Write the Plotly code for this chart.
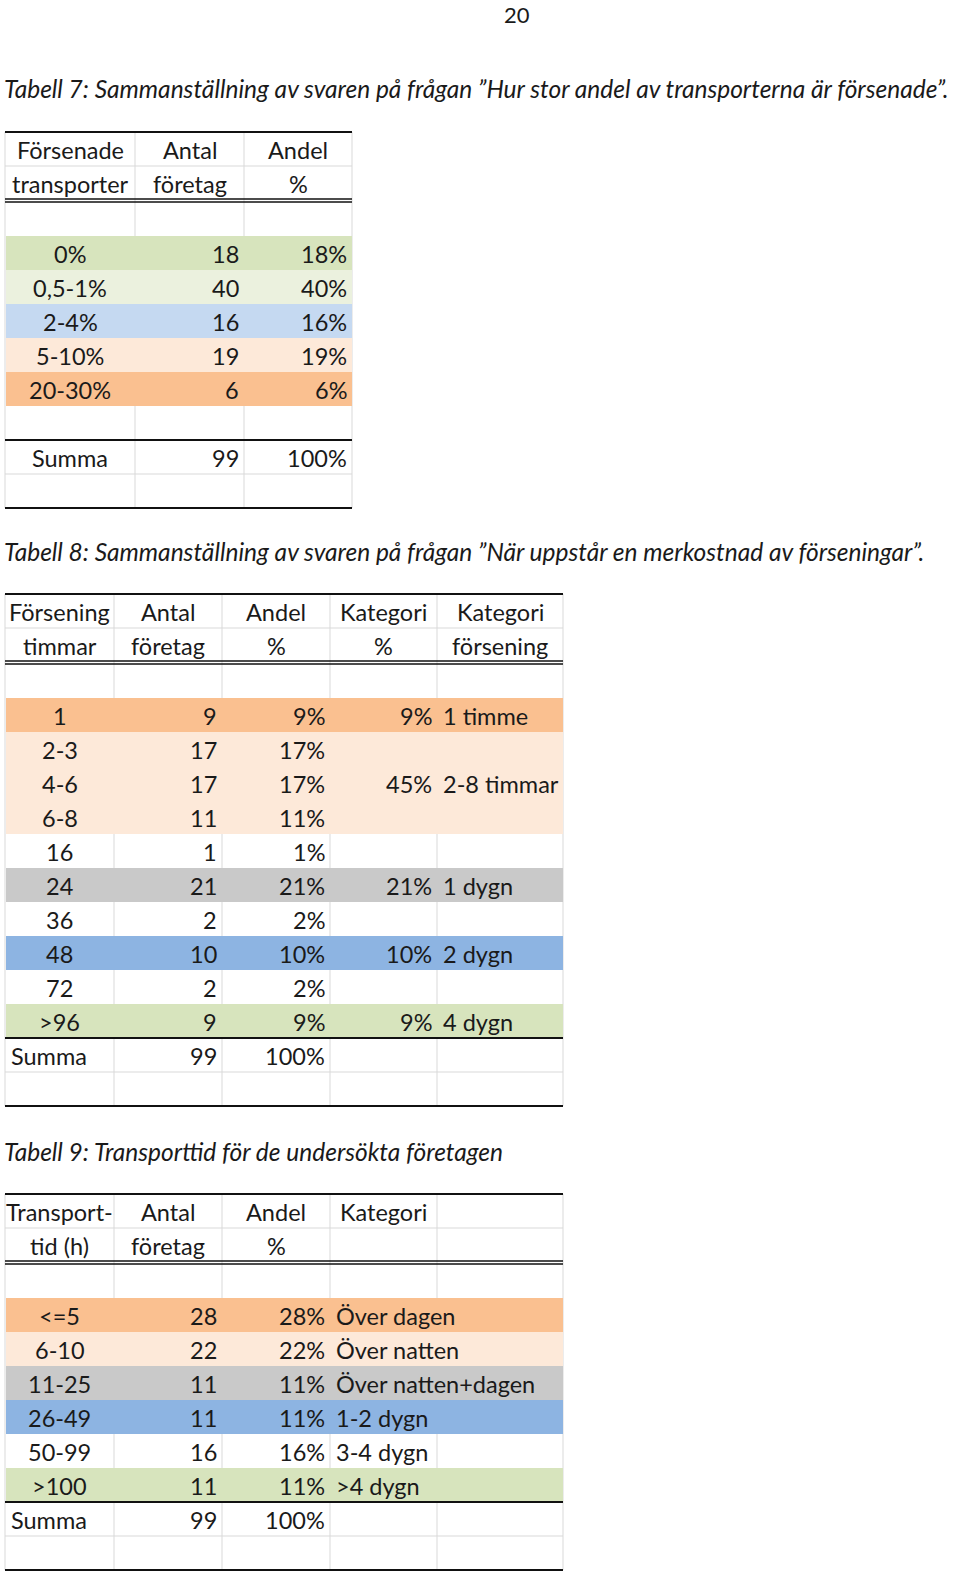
import plotly.graph_objects as go

# Tabell 7: Hur stor andel av transporterna är försenade
t7_kat = ["0%", "0,5-1%", "2-4%", "5-10%", "20-30%"]
t7_antal = [18, 40, 16, 19, 6]
t7_andel = [18, 40, 16, 19, 6]
t7_summa = [99, 100]

# Tabell 8: När uppstår en merkostnad av förseningar
t8_timmar = ["1", "2-3", "4-6", "6-8", "16", "24", "36", "48", "72", ">96"]
t8_antal = [9, 17, 17, 11, 1, 21, 2, 10, 2, 9]
t8_andel = [9, 17, 17, 11, 1, 21, 2, 10, 2, 9]
t8_kat_andel = [9, 45, 21, 10, 9]
t8_kat_namn = ["1 timme", "2-8 timmar", "1 dygn", "2 dygn", "4 dygn"]
t8_kat_rader = [[0], [1, 2, 3], [5], [7], [9]]
t8_summa = [99, 100]

# Tabell 9: Transporttid
t9_tid = ["<=5", "6-10", "11-25", "26-49", "50-99", ">100"]
t9_antal = [28, 22, 11, 11, 16, 11]
t9_andel = [28, 22, 11, 11, 16, 11]
t9_kat = ["Över dagen", "Över natten", "Över natten+dagen", "1-2 dygn", "3-4 dygn", ">4 dygn"]
t9_summa = [99, 100]

# colours (Excel-like fills)
ORANGE = "#FAC090"
PEACH = "#FDE9D9"
GRAY = "#C9C9C9"
BLUE = "#8DB4E2"
GREEN = "#D7E4BD"
LGREEN = "#EBF1DE"
LBLUE = "#C5D9F1"
GRID = "#D9D9D9"
INK = "#1a1a1a"

FONT = "Lato"
FSIZE = 23.5
TSIZE = 24.5
ROW_H = 34
PAD = 4

shapes = []
annotations = []


def line(x0, y0, x1, y1, color, width):
    shapes.append(dict(type="line", xref="x", yref="y", x0=x0, y0=y0, x1=x1, y1=y1,
                       line=dict(color=color, width=width)))


def text(s, x, y, anchor="center", italic=False, size=FSIZE):
    if italic:
        s = "<i>" + s + "</i>"
    annotations.append(dict(text=s, x=x, y=y + 1, xref="x", yref="y", showarrow=False,
                            xanchor=anchor, yanchor="middle", borderpad=0,
                            font=dict(family=FONT, size=size, color=INK)))


def cell_text(s, edges, col, yc, align):
    if align == "c":
        text(s, (edges[col] + edges[col + 1]) / 2, yc, "center")
    elif align == "r":
        text(s, edges[col + 1] - PAD, yc, "right")
    else:
        text(s, edges[col] + PAD + 1, yc, "left")


def draw_table(top, edges, head1, head2, rows, fills, summa, extra_blank):
    data_top = top + 104
    data_end = data_top + len(rows) * ROW_H
    sum_top = data_end + ROW_H if extra_blank else data_end
    sum_bot = sum_top + ROW_H
    bottom = sum_bot + ROW_H

    # light cell grid
    for x in edges:
        line(x, top, x, bottom, GRID, 1)
    line(edges[0], top + ROW_H, edges[-1], top + ROW_H, GRID, 1)
    line(edges[0], sum_bot, edges[-1], sum_bot, GRID, 1)

    # row fills
    for i, c in enumerate(fills):
        if c:
            shapes.append(dict(type="rect", xref="x", yref="y", x0=edges[0] + 1, x1=edges[-1],
                               y0=data_top + i * ROW_H, y1=data_top + (i + 1) * ROW_H,
                               fillcolor=c, line=dict(width=0)))

    # borders
    line(edges[0], top, edges[-1], top, "#111111", 2)
    line(edges[0], top + 67, edges[-1], top + 67, "#111111", 1.4)
    line(edges[0], top + 70, edges[-1], top + 70, "#111111", 1.4)
    line(edges[0], sum_top, edges[-1], sum_top, "#111111", 2)
    line(edges[0], bottom, edges[-1], bottom, "#111111", 2)

    # header
    for j, h in enumerate(head1):
        if h:
            cell_text(h, edges, j, top + ROW_H / 2, "c")
    for j, h in enumerate(head2):
        if h:
            cell_text(h, edges, j, top + ROW_H * 1.5, "c")

    # data rows
    for i, row in enumerate(rows):
        yc = data_top + (i + 0.5) * ROW_H
        for j, (s, al) in enumerate(row):
            if s != "":
                cell_text(s, edges, j, yc, al)

    # summa row
    for j, (s, al) in enumerate(summa):
        if s != "":
            cell_text(s, edges, j, sum_top + ROW_H / 2, al)
    return data_top


# page number
text("20", 517, 13, size=22)

# ---- Tabell 7 ----
text("Tabell 7: Sammanställning av svaren på frågan ”Hur stor andel av transporterna är försenade”.",
     3, 87, "left", italic=True, size=TSIZE)
e7 = [5, 135, 244, 352]
rows7 = [[(k, "c"), (str(a), "r"), (f"{p}%", "r")] for k, a, p in zip(t7_kat, t7_antal, t7_andel)]
draw_table(132, e7, ["Försenade", "Antal", "Andel"], ["transporter", "företag", "%"],
           rows7, [GREEN, LGREEN, LBLUE, PEACH, ORANGE],
           [("Summa", "c"), (str(t7_summa[0]), "r"), (f"{t7_summa[1]}%", "r")], True)

# ---- Tabell 8 ----
text("Tabell 8: Sammanställning av svaren på frågan ”När uppstår en merkostnad av förseningar”.",
     3, 550, "left", italic=True, size=TSIZE)
e8 = [5, 114, 222, 330, 437, 563]
rows8 = [[(t, "c"), (str(a), "r"), (f"{p}%", "r"), ("", "r"), ("", "l")]
         for t, a, p in zip(t8_timmar, t8_antal, t8_andel)]
top8 = draw_table(594, e8, ["Försening", "Antal", "Andel", "Kategori", "Kategori"],
                  ["timmar", "företag", "%", "%", "försening"],
                  rows8, [ORANGE, PEACH, PEACH, PEACH, None, GRAY, None, BLUE, None, GREEN],
                  [("Summa", "l"), (str(t8_summa[0]), "r"), (f"{t8_summa[1]}%", "r"), ("", "r"), ("", "l")],
                  False)
for p, n, rr in zip(t8_kat_andel, t8_kat_namn, t8_kat_rader):
    yc = top8 + (sum(rr) / len(rr) + 0.5) * ROW_H
    cell_text(f"{p}%", e8, 3, yc, "r")
    cell_text(n, e8, 4, yc, "l")

# ---- Tabell 9 ----
text("Tabell 9: Transporttid för de undersökta företagen", 3, 1150, "left", italic=True, size=TSIZE)
rows9 = [[(t, "c"), (str(a), "r"), (f"{p}%", "r"), (k, "l"), ("", "l")]
         for t, a, p, k in zip(t9_tid, t9_antal, t9_andel, t9_kat)]
draw_table(1194, e8, ["Transport-", "Antal", "Andel", "Kategori", ""],
           ["tid (h)", "företag", "%", "", ""],
           rows9, [ORANGE, PEACH, GRAY, BLUE, None, GREEN],
           [("Summa", "l"), (str(t9_summa[0]), "r"), (f"{t9_summa[1]}%", "r"), ("", "l"), ("", "l")],
           False)

fig = go.Figure()
fig.update_layout(
    width=960, height=1576,
    margin=dict(l=0, r=0, t=0, b=0),
    paper_bgcolor="white", plot_bgcolor="white",
    xaxis=dict(range=[0, 960], visible=False, fixedrange=True),
    yaxis=dict(range=[1576, 0], visible=False, fixedrange=True),
    shapes=shapes, annotations=annotations,
    showlegend=False,
)

# drop the default page margin so the figure sits at the window's top-left corner
fig.write_html("out.html", config={"displayModeBar": False},
               post_script="document.body.style.margin = '0';")
